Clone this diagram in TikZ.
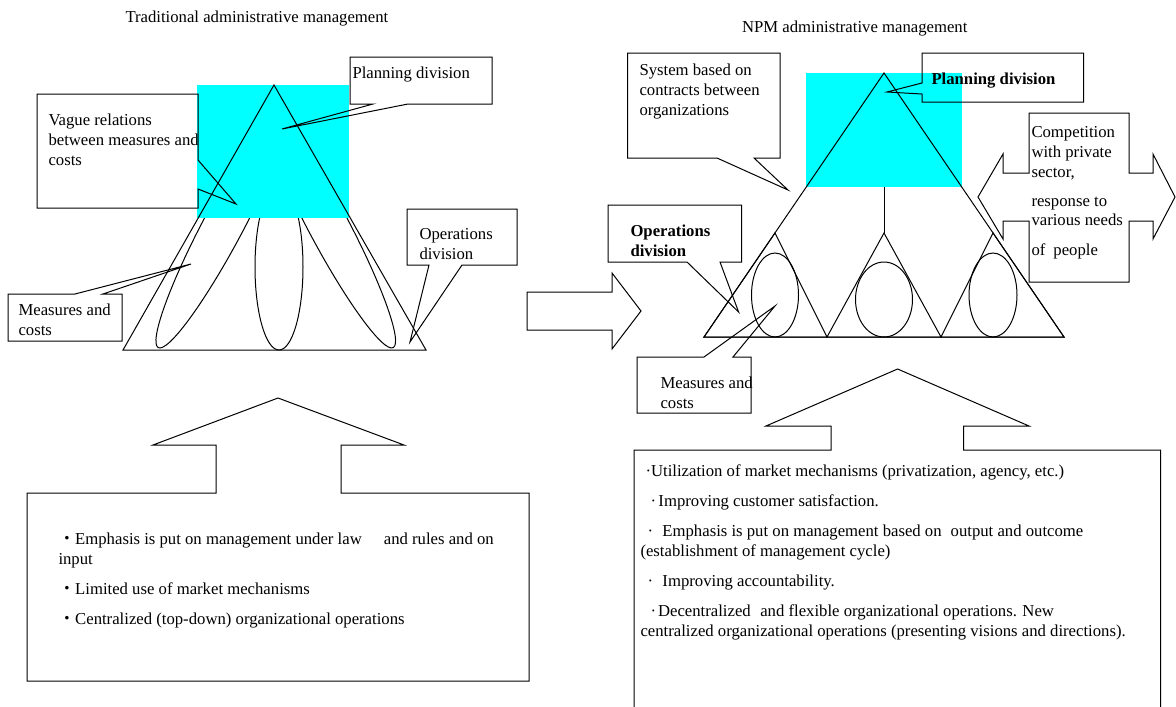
\documentclass[tikz,border=0pt]{standalone}
\usepackage{fontspec}
\setmainfont{Liberation Serif}
\newfontfamily\cjk{Noto Sans CJK JP}
\begin{document}
\begin{tikzpicture}[x=1pt,y=-1pt,
  line width=1pt, line join=miter,
  txt/.style={anchor=base west, inner sep=0pt, font=\fontsize{16.7}{20}\selectfont},
  btxt/.style={txt, font=\fontsize{16.7}{20}\selectfont\bfseries},
  shp/.style={draw=black, line width=1pt},
  cyanfill/.style={fill={rgb,255:red,0;green,255;blue,255}, draw=none}]
\useasboundingbox (0,0) rectangle (1176,707);

% ===================== LEFT: traditional =====================
\node[txt] (tl) at (125,22) {Traditional administrative management};

% petals (partly hidden under cyan)
\begin{scope}[shift={(224,224)}, rotate=62]
  \draw[shp] (0,0) ellipse [x radius=140pt, y radius=20pt];
\end{scope}
\begin{scope}[shift={(327.5,224)}, rotate=118]
  \draw[shp] (0,0) ellipse [x radius=140pt, y radius=20pt];
\end{scope}
\draw[shp] (279,267) ellipse [x radius=24pt, y radius=83pt];

% cyan planning area
\fill[cyanfill] (197,85) rectangle (349,218);
% main triangle
\draw[shp] (274,85) -- (123,350) -- (426,350) -- cycle;

% callout: vague relations
\draw[shp] (37,94) -- (198,94) -- (198,160) -- (236,204) -- (198,189) -- (198,208) -- (37,208) -- cycle;
\node[txt] (va1) at (48,125) {Vague relations};
\node[txt] (va2) at (48,145) {between measures and};
\node[txt] (va3) at (48,165) {costs};

% callout: planning division
\draw[shp] (350,57) -- (492,57) -- (492,104) -- (408,104) -- (282,129) -- (373,104) -- (350,104) -- cycle;
\node[txt] (pl) at (352,78) {Planning division};

% callout: operations division
\draw[shp] (407,209) -- (517,209) -- (517,265) -- (462,265) -- (410,342) -- (429,265) -- (407,265) -- cycle;
\node[txt] (op1) at (419,239) {Operations};
\node[txt] (op2) at (419,259) {division};

% callout: measures and costs
\draw[shp] (8,294) -- (75,294) -- (191,264) -- (103,294) -- (122,294) -- (122,341) -- (8,341) -- cycle;
\node[txt] (mc1) at (18,315) {Measures and};
\node[txt] (mc2) at (18,335) {costs};

% up arrow + box
\draw[shp] (27,493) -- (216,493) -- (216,445) -- (153,445) -- (278,398) -- (404,445) -- (341,445) -- (341,493) -- (529,493) -- (529,681) -- (27,681) -- cycle;
\node[txt] (lb1) at (58,544) {{\cjk ・}Emphasis is put on management under law\hspace{22pt}and rules and on};
\node[txt] (lb2) at (58,564) {input};
\node[txt] (lb3) at (58,594) {{\cjk ・}Limited use of market mechanisms};
\node[txt] (lb4) at (58,624) {{\cjk ・}Centralized (top-down) organizational operations};

% central block arrow
\draw[shp] (527,292) -- (612,292) -- (612,273) -- (641,311) -- (612,349) -- (612,330) -- (527,330) -- cycle;

% ===================== RIGHT: NPM =====================
\node[txt] (tr) at (741.5,32) {NPM administrative management};

\fill[cyanfill] (806,73) rectangle (962,187);
\draw[shp] (884,73) -- (704,337) -- (1064,337) -- cycle;
\draw[shp] (884,187) -- (884,233);
\draw[shp] (775,233) -- (704,337) -- (827,337) -- cycle;
\draw[shp] (884,233) -- (827,337) -- (941,337) -- cycle;
\draw[shp] (993,233) -- (941,337) -- (1064,337) -- cycle;
\draw[shp] (775,295) ellipse [x radius=23.5pt, y radius=42pt];
\draw[shp] (884,299.5) ellipse [x radius=28.5pt, y radius=37.5pt];
\draw[shp] (993,295) ellipse [x radius=24pt, y radius=42pt];

% callout: system based on contracts
\draw[shp] (627.6,53) -- (780,53) -- (780,158) -- (754,158) -- (788,190) -- (717,158) -- (627.6,158) -- cycle;
\node[txt] (sy1) at (639,75) {System based on};
\node[txt] (sy2) at (639,95) {contracts between};
\node[txt] (sy3) at (639,115) {organizations};

% callout: planning division (bold)
\draw[shp] (922,53) -- (1083.5,53) -- (1083.5,102) -- (922,102) -- (922,94) -- (887,92) -- (922,83) -- cycle;
\node[btxt] (pr) at (931,84) {Planning division};

% callout: operations division (bold)
\draw[shp] (608,205) -- (741.5,205) -- (741.5,262) -- (720,262) -- (738.6,312) -- (687,262) -- (608,262) -- cycle;
\node[btxt] (or1) at (630,236) {Operations};
\node[btxt] (or2) at (630,256) {division};

% callout: measures and costs
\draw[shp] (637,357) -- (704,357) -- (775,306) -- (733,357) -- (751,357) -- (751,413) -- (637,413) -- cycle;
\node[txt] (mr1) at (660,388) {Measures and};
\node[txt] (mr2) at (660,408) {costs};

% left-right arrow callout
\draw[shp] (1029,113) -- (1129,113) -- (1129,173) -- (1153,173) -- (1153,154) -- (1175,197) -- (1153,239) -- (1153,221) -- (1129,221) -- (1129,282) -- (1029,282) -- (1029,221) -- (1003,221) -- (1003,239) -- (978,197) -- (1003,154) -- (1003,173) -- (1029,173) -- cycle;
\node[txt] (cp1) at (1031,137) {Competition};
\node[txt] (cp2) at (1031,157) {with private};
\node[txt] (cp3) at (1031,177) {sector,};
\node[txt] (cp4) at (1031,206) {response to};
\node[txt] (cp5) at (1031,225) {various needs};
\node[txt] (cp6) at (1031,255) {of\hspace{8pt}people};

% up arrow + box (box runs off the bottom)
\draw[shp] (634,707) -- (634,450) -- (831,450) -- (831,426) -- (766,426) -- (897.6,369) -- (1029,426) -- (963.5,426) -- (963.5,450) -- (1160.7,450) -- (1160.7,707);
\node[txt] (rb1) at (645,476) {·Utilization of market mechanisms (privatization, agency, etc.)};
\node[txt] (rb2) at (650,506) {·\hspace{2.4pt}Improving customer satisfaction.};
\node[txt] (rb3) at (647,536) {·\hspace{9.4pt}Emphasis is put on management based on\hspace{9pt}output and outcome};
\node[txt] (rb4) at (640,556) {(establishment of management cycle)};
\node[txt] (rb5) at (647,586) {·\hspace{9.4pt}Improving accountability.};
\node[txt] (rb6) at (650,616) {·\hspace{2pt}Decentralized\hspace{9.5pt}and flexible organizational operations. New};
\node[txt] (rb7) at (640,636) {centralized organizational operations (presenting visions and directions).};
\end{tikzpicture}
\end{document}
